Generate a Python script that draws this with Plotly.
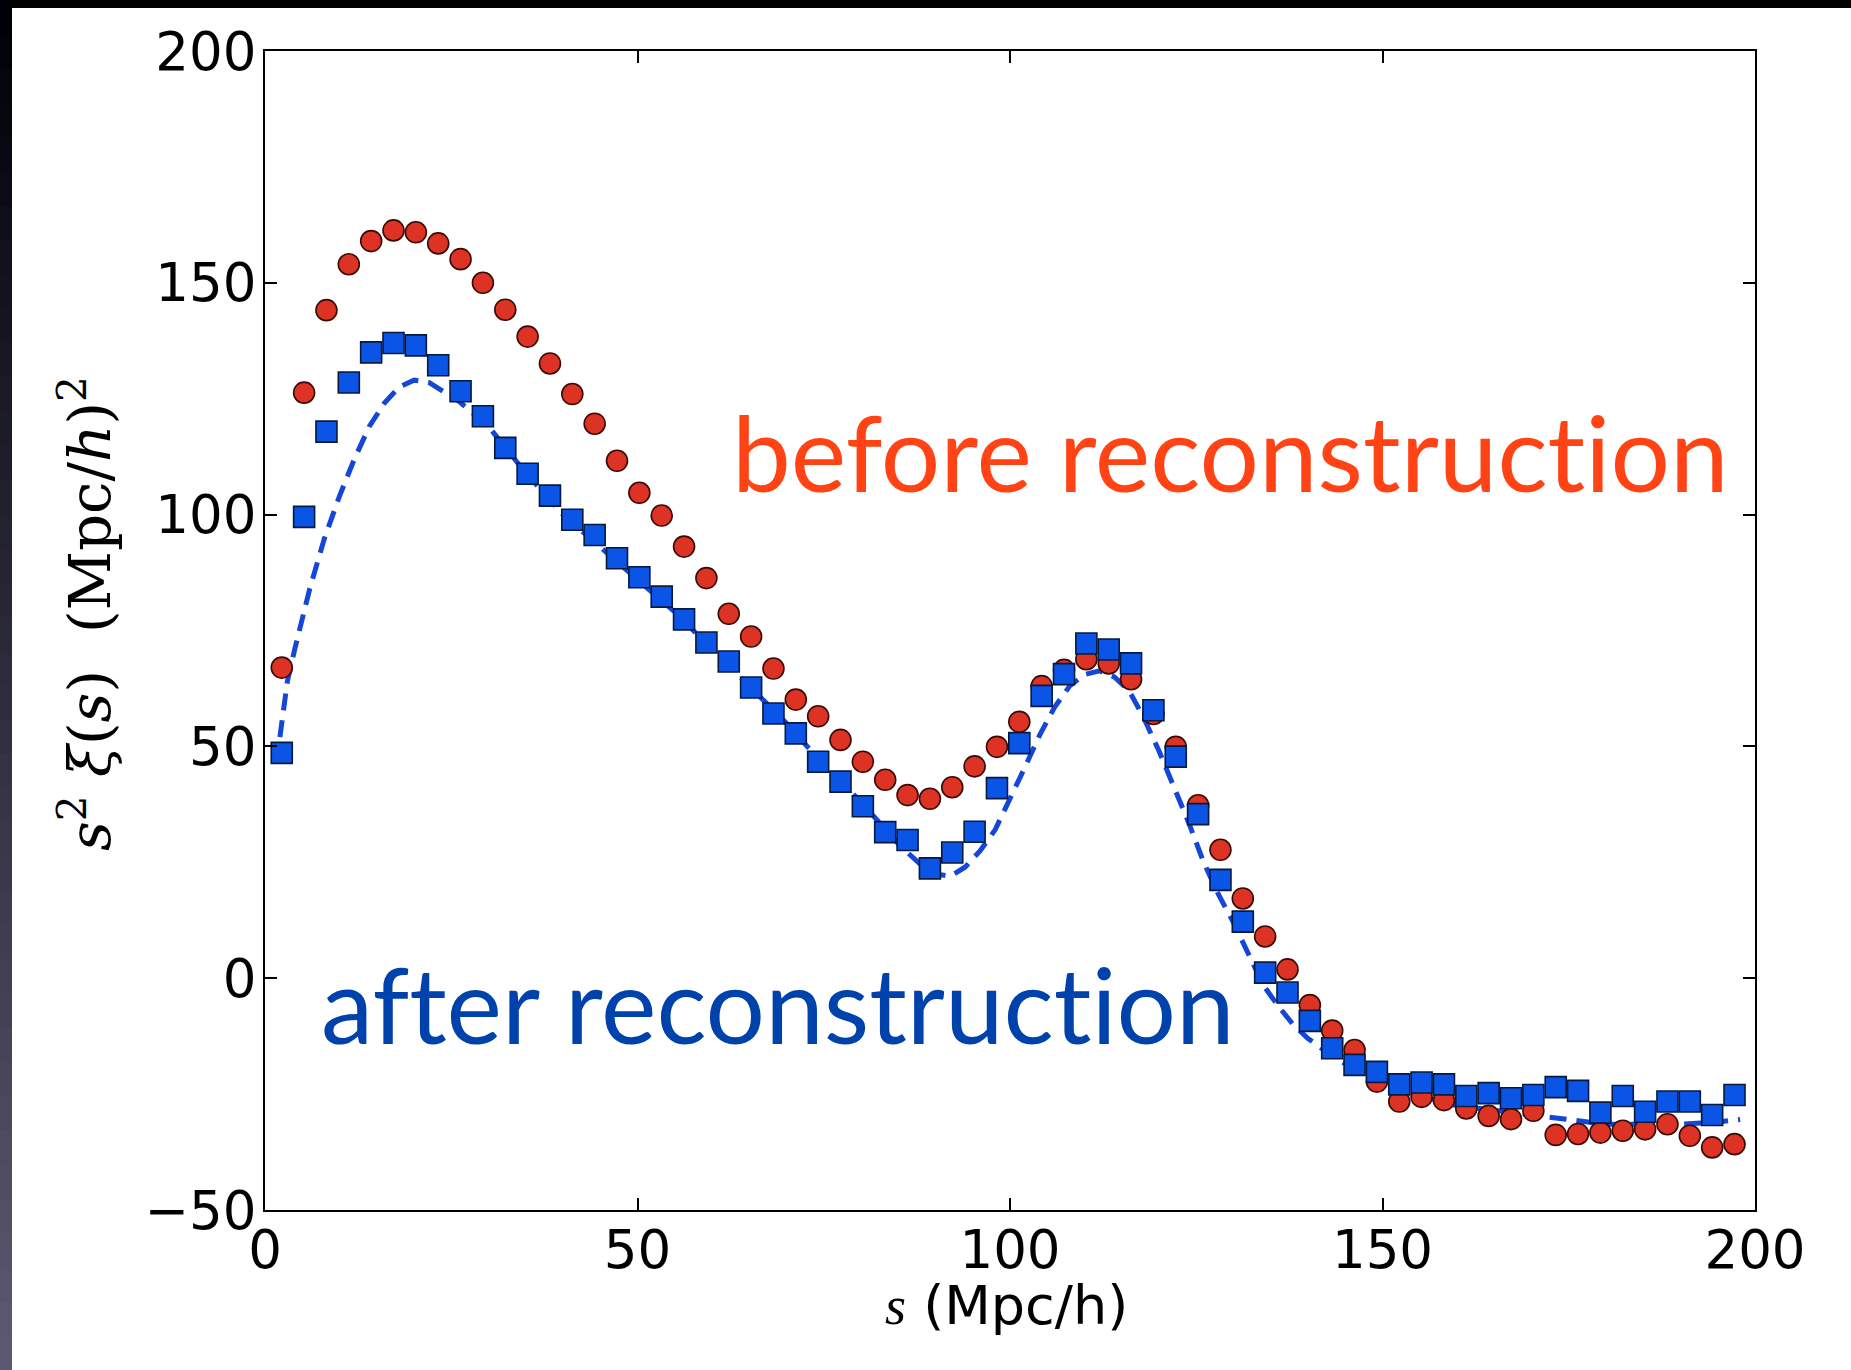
import plotly.graph_objects as go

# Separation bins (Mpc/h)
s_bins = [2.25, 5.25, 8.25, 11.25, 14.25, 17.25, 20.25, 23.25, 26.25, 29.25,
          32.25, 35.25, 38.25, 41.25, 44.25, 47.25, 50.25, 53.25, 56.25, 59.25,
          62.25, 65.25, 68.25, 71.25, 74.25, 77.25, 80.25, 83.25, 86.25, 89.25,
          92.25, 95.25, 98.25, 101.25, 104.25, 107.25, 110.25, 113.25, 116.25, 119.25,
          122.25, 125.25, 128.25, 131.25, 134.25, 137.25, 140.25, 143.25, 146.25, 149.25,
          152.25, 155.25, 158.25, 161.25, 164.25, 167.25, 170.25, 173.25, 176.25, 179.25,
          182.25, 185.25, 188.25, 191.25, 194.25, 197.25]

# s^2 xi(s) before reconstruction
xi_before = [67.0, 126.3, 144.1, 154.0, 159.0, 161.3, 160.9, 158.5, 155.1, 150.0,
             144.2, 138.4, 132.6, 126.0, 119.6, 111.6, 104.7, 99.8, 93.1, 86.3,
             78.6, 73.7, 66.8, 60.1, 56.5, 51.4, 46.7, 42.8, 39.5, 38.7,
             41.2, 45.7, 49.9, 55.3, 63.0, 66.5, 68.8, 67.9, 64.5, 57.0,
             49.9, 37.3, 27.7, 17.2, 9.0, 1.9, -5.8, -11.3, -15.5, -22.3,
             -26.6, -25.6, -26.3, -28.1, -29.7, -30.4, -28.6, -33.8, -33.6, -33.3,
             -32.9, -32.6, -31.5, -34.0, -36.5, -35.8]

# s^2 xi(s) after reconstruction
xi_after = [48.6, 99.5, 117.9, 128.5, 135.0, 137.0, 136.5, 132.2, 126.6, 121.2,
            114.4, 108.8, 104.1, 98.9, 95.6, 90.6, 86.5, 82.3, 77.4, 72.4,
            68.3, 62.7, 57.1, 52.8, 46.7, 42.4, 37.1, 31.5, 29.8, 23.7,
            27.1, 31.6, 41.0, 50.7, 60.9, 65.6, 72.2, 70.9, 67.9, 57.8,
            47.8, 35.4, 21.2, 12.2, 1.2, -3.1, -9.2, -15.1, -18.7, -20.2,
            -22.9, -22.5, -22.9, -25.4, -24.8, -25.9, -25.2, -23.5, -24.3, -29.0,
            -25.4, -28.8, -26.6, -26.6, -29.5, -25.2]

# Model curve
s_model = [2, 3, 4, 5, 6, 8, 10, 12, 14, 16, 18, 20, 22, 24, 26, 30, 35, 40, 45,
           50, 55, 60, 65, 70, 75, 80, 85, 88, 90, 92, 94, 96, 98, 100, 102, 104,
           106, 108, 110, 112, 114, 116, 118, 120, 122, 124, 126, 128, 130, 132,
           134, 136, 138, 140, 143, 146, 150, 155, 160, 165, 170, 175, 180, 185,
           190, 195, 198]
xi_model = [52, 64, 71, 78, 84, 95, 104, 112, 119, 124, 127.5, 129, 128.5, 126.5,
            124.5, 119, 109, 100, 93, 86, 79, 71, 63, 55, 46, 38, 29, 24.5, 22.5,
            22, 24, 27.5, 32, 38.5, 45.5, 52.5, 58.5, 63, 65.5, 66.3, 65, 62, 56,
            49, 41.5, 33.5, 25, 18, 12, 5, -1.5, -6, -10, -13, -16.5, -19.5, -22.5,
            -25.5, -27.5, -28.5, -29.5, -30.5, -31.5, -31.5, -31.5, -31, -30.5]

x_ticks = [0, 50, 100, 150, 200]
y_ticks = [-50, 0, 50, 100, 150, 200]
y_tick_text = ["\u221250", "0", "50", "100", "150", "200"]

W, H = 1851, 1370
L, R, T, B = 265, 1755, 51, 1210  # plot-area pixel box


def px(x):
    return (x - L) / (R - L)


def py(y):
    return (B - y) / (B - T)


def no_liga(text):
    # keep "t" and "i" as separate glyphs
    return ("<span style='font-variant-ligatures:none;"
            "font-feature-settings:\"liga\" 0'>" + text + "</span>")


fig = go.Figure()

fig.add_trace(go.Scatter(
    x=s_model, y=xi_model, mode="lines",
    line=dict(color="#1446d8", width=5, dash="17px,10px"),
    hoverinfo="skip", showlegend=False))

fig.add_trace(go.Scatter(
    x=s_bins, y=xi_before, mode="markers",
    marker=dict(symbol="circle", size=21, color="#dd3324",
                line=dict(color="#3a0a05", width=1.6)),
    showlegend=False))

fig.add_trace(go.Scatter(
    x=s_bins, y=xi_after, mode="markers",
    marker=dict(symbol="square", size=21, color="#0a55e6",
                line=dict(color="#061a40", width=1.6)),
    showlegend=False))

axis_common = dict(
    showline=True, linewidth=2, linecolor="black", mirror="ticks",
    ticks="inside", ticklen=12, tickwidth=1.6, tickcolor="black",
    showgrid=False, zeroline=False,
    tickfont=dict(family="DejaVu Sans", size=53, color="black"),
)

fig.update_xaxes(range=[0, 200], tickvals=x_ticks, ticklabelstandoff=-8,
                 **axis_common)
fig.update_yaxes(range=[-50, 200], tickvals=y_ticks, ticktext=y_tick_text,
                 ticklabelstandoff=-4, **axis_common)

shapes = []
# dark top band
shapes.append(dict(type="rect", xref="paper", yref="paper",
                   x0=px(0), x1=px(W), y0=py(8), y1=py(0),
                   fillcolor="black", line=dict(width=0), layer="above"))
# dark left strip shading from black to slate
n_strip = 40
c0 = (0, 0, 8)
c1 = (92, 88, 112)
for i in range(n_strip):
    t = i / (n_strip - 1)
    c = tuple(int(round(a + (b - a) * t)) for a, b in zip(c0, c1))
    y0p = H * i / n_strip
    y1p = H * (i + 1) / n_strip
    shapes.append(dict(type="rect", xref="paper", yref="paper",
                       x0=px(0), x1=px(12), y0=py(y1p + 1), y1=py(y0p),
                       fillcolor="rgb(%d,%d,%d)" % c, line=dict(width=0),
                       layer="above"))

annotations = [
    dict(text=no_liga("before reconstruction"), xref="paper", yref="paper",
         x=px(730), y=py(487 - 36), xanchor="left", yanchor="middle",
         showarrow=False,
         font=dict(family="Lato", size=105, color="#ff4315")),
    dict(text=no_liga("after reconstruction"), xref="paper", yref="paper",
         x=px(319), y=py(1041 - 38), xanchor="left", yanchor="middle",
         showarrow=False,
         font=dict(family="Lato", size=105, color="#0042ac")),
    dict(text="<span style='font-family:Liberation Serif'><i>s</i></span> (Mpc/h)",
         xref="paper", yref="paper", x=px(1006), y=py(1305),
         xanchor="center", yanchor="middle", showarrow=False,
         font=dict(family="DejaVu Sans", size=54, color="black")),
    dict(text="<i>s</i><sup>2</sup>&nbsp;<i>\u03be</i>(<i>s</i>)&nbsp;&nbsp;(Mpc/<i>h</i>)<sup>2</sup>",
         xref="paper", yref="paper", x=px(86), y=py(614),
         xanchor="center", yanchor="middle", textangle=-90, showarrow=False,
         font=dict(family="DejaVu Serif", size=58, color="black")),
]

fig.update_layout(
    width=W, height=H,
    margin=dict(l=L, r=W - R, t=T, b=H - B, pad=0),
    paper_bgcolor="white", plot_bgcolor="white",
    shapes=shapes, annotations=annotations,
)

fig.write_html("out.html", include_plotlyjs=True, full_html=True,
               config=dict(displayModeBar=False))
